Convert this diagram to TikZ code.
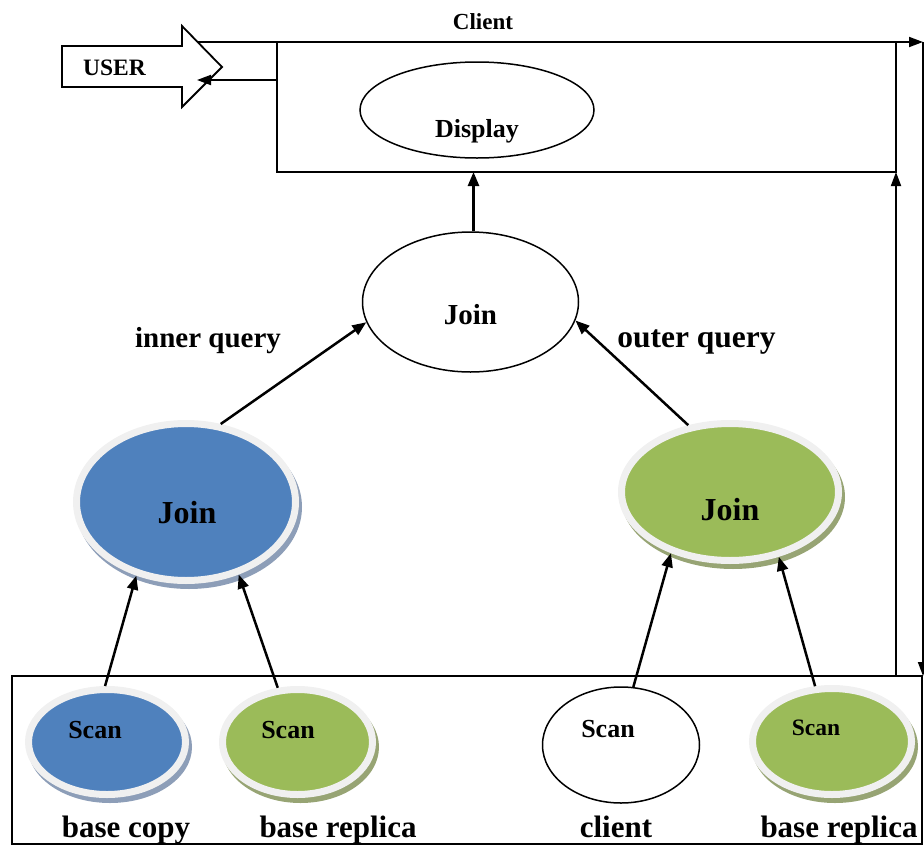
\documentclass[tikz,border=0pt]{standalone}
\usepackage{fontspec}
\setmainfont{Liberation Serif}
\usetikzlibrary{shapes.geometric,arrows.meta,backgrounds}
\definecolor{jblue}{HTML}{4F81BD}
\definecolor{jgreen}{HTML}{9BBB59}
\definecolor{ringc}{HTML}{F0F0F0}
\definecolor{shblue}{HTML}{8D9EB8}
\definecolor{shgreen}{HTML}{97A474}
\begin{document}
\begin{tikzpicture}[x=1pt,y=-1pt,
  txt/.style={font=\bfseries\fontsize{#1}{#1}\selectfont, inner sep=0pt, anchor=base},
  disc/.style={ellipse, fill=#1, draw=ringc, line width=7pt, inner sep=0pt},
  plain/.style={ellipse, draw, line width=1.5pt, inner sep=0pt},
  conn/.style={line width=2.5pt, -{Triangle[length=14pt,width=11pt]}},
  thinconn/.style={line width=1.8pt, -{Triangle[length=14pt,width=10pt]}},
  frame/.style={draw, line width=1.8pt, inner sep=0pt, outer sep=0pt, anchor=north west}
]
\useasboundingbox (0,0) rectangle (924,846);

% boxes
\node[frame, minimum width=619pt, minimum height=130pt] (clientbox) at (277,42) {};
\node[frame, minimum width=910pt, minimum height=168pt] (bottombox) at (12,676) {};

% USER block arrow
\draw[line width=1.8pt, fill=white, line join=miter]
  (62,46) -- (182,46) -- (182,26) -- (222,67) -- (182,107) -- (182,87) -- (62,87) -- cycle;
\node[txt=23.5] (user) at (114.5,75) {USER};
\coordinate (utop) at (198,42);
\coordinate (uret) at (197,80);
\coordinate (tr) at (923,42);

\node[txt=23] (clientlbl) at (483,29) {Client};

% display and top join
\node[plain, minimum width=234pt, minimum height=96pt] (display) at (477,110) {};
\node[txt=26] (displayt) at (477,137) {Display};
\node[plain, minimum width=216pt, minimum height=140pt] (jm) at (470.5,302) {};
\node[txt=29] (jmt) at (470.5,324) {Join};

\node[txt=29] (inner) at (208,347) {inner query};
\node[txt=31.5] (outer) at (696.5,347) {outer query};

% join discs
\node[disc=jblue, minimum width=219pt, minimum height=157pt] (bj) at (186,502) {};
\node[txt=32] (bjt) at (187,523) {Join};
\node[disc=jgreen, minimum width=217pt, minimum height=137pt] (gj) at (730,492) {};
\node[txt=32] (gjt) at (730,520) {Join};

% scans
\node[disc=jblue, minimum width=157pt, minimum height=105pt] (bs) at (107,742) {};
\node[txt=26] (bst) at (95,738) {Scan};
\node[disc=jgreen, minimum width=150pt, minimum height=105pt] (gs1) at (297.5,742) {};
\node[txt=26] (gs1t) at (288,738) {Scan};
\node[plain, minimum width=157pt, minimum height=116pt] (ws) at (621,745) {};
\node[txt=26] (wst) at (608,737) {Scan};
\node[disc=jgreen, minimum width=159pt, minimum height=106pt] (gs2) at (832,741.5) {};
\node[txt=23.5] (gs2t) at (816,735) {Scan};

% bottom labels
\node[txt=31] (l1) at (126,837) {base copy};
\node[txt=31] (l2) at (338,837) {base replica};
\node[txt=31] (l3) at (616,837) {client};
\node[txt=31] (l4) at (839,837) {base replica};

% shadows
\begin{scope}[on background layer]
  \fill[shblue] ([shift={(3,5)}]bj.center) ellipse [x radius=113, y radius=82];
  \fill[shgreen] ([shift={(3,5)}]gj.center) ellipse [x radius=112, y radius=72];
  \fill[shblue] ([shift={(3,5)}]bs.center) ellipse [x radius=82, y radius=56];
  \fill[shgreen] ([shift={(3,5)}]gs1.center) ellipse [x radius=78.5, y radius=56];
  \fill[shgreen] ([shift={(3,5)}]gs2.center) ellipse [x radius=83, y radius=56.5];
\end{scope}

% connectors
\draw[thinconn] (utop) -- (tr);
\draw[thinconn] (tr) -- (tr |- bottombox.north);
\draw[thinconn] (clientbox.west |- uret) -- (uret);
\draw[thinconn] (clientbox.south east |- bottombox.north) -- (clientbox.south east);
\draw[conn] ([xshift=3pt]jm.north) -- ([xshift=3pt]jm.north |- clientbox.south);
\draw[conn] (bj.66) -- (jm.191);
\draw[conn] (gj.122) -- (jm.350);
\draw[conn] (bs.92) -- (bj.236);
\draw[conn] (gs1.110) -- (bj.306);
\draw[conn] (ws.78) -- (gj.226);
\draw[conn] (gs2.107) -- (gj.307);
\end{tikzpicture}
\end{document}
